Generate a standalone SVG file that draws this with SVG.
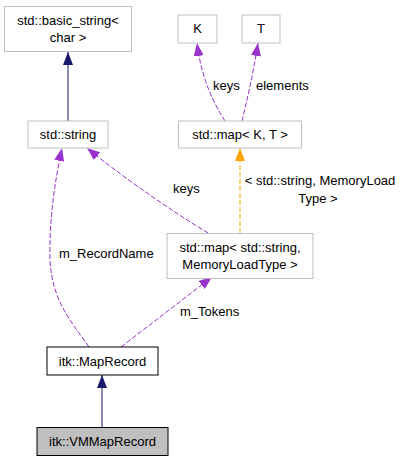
<svg xmlns="http://www.w3.org/2000/svg" width="403" height="461" viewBox="0 0 403 461">
<defs>
<style>
text{font-family:"Liberation Sans",Arial,sans-serif;font-size:13px;fill:#000;}
.n{fill:#fff;stroke:#bfbfbf;stroke-width:1;}
.nb{fill:#fff;stroke:#000;stroke-width:1;}
.ng{fill:#bfbfbf;stroke:#000;stroke-width:1;}
.e{fill:none;stroke-width:1;}
.blue{stroke:#191970;}
.purple{stroke:#9a32cd;stroke-dasharray:5,2;}
.orange{stroke:#ffa500;stroke-dasharray:5,2;}
</style>
<marker id="ab" viewBox="0 0 13 10" refX="13" refY="5" markerWidth="13" markerHeight="10" markerUnits="userSpaceOnUse" orient="auto"><path d="M0,0 L13,5 L0,10 z" fill="#191970"/></marker>
<marker id="ap" viewBox="0 0 13 10" refX="13" refY="5" markerWidth="13" markerHeight="10" markerUnits="userSpaceOnUse" orient="auto"><path d="M0,0 L13,5 L0,10 z" fill="#9a32cd"/></marker>
<marker id="ao" viewBox="0 0 13 10" refX="13" refY="5" markerWidth="13" markerHeight="10" markerUnits="userSpaceOnUse" orient="auto"><path d="M0,0 L13,5 L0,10 z" fill="#ffa500"/></marker>
</defs>
<rect width="403" height="461" fill="#fff"/>
<g id="connectors">
<path class="e blue" d="M68,121 L68,52" marker-end="url(#ab)"/>
<path class="e purple" d="M225,121 C215,105 202,82 197,43" marker-end="url(#ap)"/>
<path class="e purple" d="M242,121 C247,100 253,75 258,43" marker-end="url(#ap)"/>
<path class="e orange" d="M240,233 L240,148" marker-end="url(#ao)"/>
<path class="e purple" d="M208,233 C170,210 120,175 87,148" marker-end="url(#ap)"/>
<path class="e purple" d="M89,347 C70,320 52,300 50,260 C49,220 55,180 62,148" marker-end="url(#ap)"/>
<path class="e purple" d="M121,347 L212,277" marker-end="url(#ap)"/>
<path class="e blue" d="M102,427 L102,375" marker-end="url(#ab)"/>
<text x="173" y="193">keys</text>
<text x="59" y="258">m_RecordName</text>
<text x="180" y="316">m_Tokens</text>
<text x="213" y="90">keys</text>
<text x="256" y="90">elements</text>
<text x="320" y="185" text-anchor="middle">&lt; std::string, MemoryLoad</text>
<text x="318" y="203" text-anchor="middle">Type &gt;</text>
</g>
<g id="node-basic_string">
<rect class="n" x="4.5" y="6.5" width="127" height="45"/>
<text x="68" y="25" text-anchor="middle">std::basic_string&lt;</text>
<text x="68" y="42" text-anchor="middle">char &gt;</text>
</g>
<g id="node-string">
<rect class="n" x="28" y="121" width="80" height="27"/>
<text x="68" y="139" text-anchor="middle">std::string</text>
</g>
<g id="node-K">
<rect class="n" x="178" y="15" width="39" height="28"/>
<text x="197.5" y="33" text-anchor="middle">K</text>
</g>
<g id="node-T">
<rect class="n" x="242" y="15" width="38" height="28"/>
<text x="261" y="33" text-anchor="middle">T</text>
</g>
<g id="node-map-KT">
<rect class="n" x="178.5" y="121" width="123" height="27"/>
<text x="240" y="139" text-anchor="middle">std::map&lt; K, T &gt;</text>
</g>
<g id="node-map-string">
<rect class="n" x="167" y="233.5" width="146" height="45"/>
<text x="240" y="252" text-anchor="middle">std::map&lt; std::string,</text>
<text x="240" y="269" text-anchor="middle">MemoryLoadType &gt;</text>
</g>
<g id="node-MapRecord">
<rect class="nb" x="47" y="347" width="111" height="28"/>
<text x="102.5" y="366" text-anchor="middle">itk::MapRecord</text>
</g>
<g id="node-VMMapRecord">
<rect class="ng" x="37" y="427.5" width="131" height="28"/>
<text x="102.5" y="446" text-anchor="middle">itk::VMMapRecord</text>
</g>
</svg>
